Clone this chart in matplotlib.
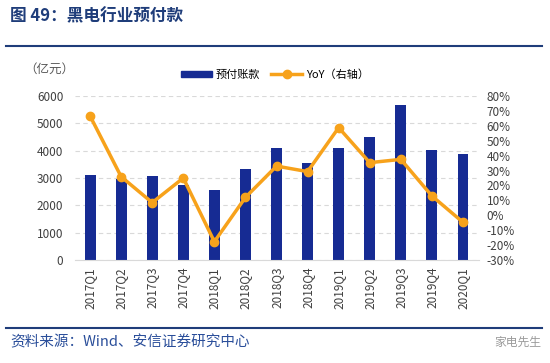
import matplotlib
matplotlib.use("Agg")
import matplotlib.pyplot as plt
from matplotlib.lines import Line2D
from matplotlib.patches import Patch

plt.rcParams['font.family'] = ['Noto Sans CJK SC', 'DejaVu Sans']

quarters = ["2017Q1", "2017Q2", "2017Q3", "2017Q4", "2018Q1", "2018Q2", "2018Q3",
            "2018Q4", "2019Q1", "2019Q2", "2019Q3", "2019Q4", "2020Q1"]
prepay = [3120, 2960, 3080, 2760, 2570, 3330, 4110, 3550, 4090, 4490, 5670, 4020, 3880]
yoy = [66.6, 25.9, 8.5, 25.0, -17.7, 12.0, 33.0, 29.3, 58.8, 35.3, 37.5, 13.0, -4.7]

bar_color = "#162B93"
line_color = "#F7A21B"
title_color = "#1F3D7A"

fig = plt.figure(figsize=(5.5, 3.63), dpi=100)

# header / footer
fig.text(0.018, 0.955, "图 49：黑电行业预付款", fontsize=12, fontweight="bold",
         color=title_color, va="center", ha="left")
fig.add_artist(Line2D([0.01, 0.985], [0.874, 0.874], color="#1F3D7A", lw=1.5))
fig.add_artist(Line2D([0.01, 0.985], [0.097, 0.097], color="#1F3D7A", lw=1.5))
fig.text(0.018, 0.058, "资料来源：Wind、安信证券研究中心", fontsize=10.5, style="italic",
         color="#2A4E9A", va="center", ha="left")
fig.text(0.985, 0.058, "家电先生", fontsize=8.5, color="#9A9A9A", va="center", ha="right")

ax = fig.add_axes([0.1355, 0.2837, 0.7345, 0.4518])
x = range(len(quarters))
ax.bar(x, prepay, width=0.35, color=bar_color, zorder=2)
ax.set_xlim(-0.5, len(quarters) - 0.5)
ax.set_ylim(0, 6000)
ax.set_yticks(range(0, 6001, 1000))
ax.yaxis.grid(True, linestyle=(0, (4, 3)), color="#D9D9D9", lw=0.8, zorder=0)
ax.set_axisbelow(True)
ax.set_xticks(list(x))
ax.set_xticklabels(quarters, rotation=90, fontsize=8.5, color="#404040")
ax.tick_params(axis="y", labelsize=8.5, colors="#404040", length=0, pad=8)
ax.tick_params(axis="x", length=0, pad=5)
for s in ["top", "right", "left"]:
    ax.spines[s].set_visible(False)
ax.spines["bottom"].set_color("#D9D9D9")

ax2 = ax.twinx()
ax2.plot(list(x), yoy, color=line_color, lw=2.5, marker="o", markersize=6, zorder=3)
ax2.set_ylim(-30, 80)
ax2.set_yticks(range(-30, 81, 10))
ax2.set_yticklabels([f"{v}%" for v in range(-30, 81, 10)])
ax2.tick_params(axis="y", labelsize=8.5, colors="#404040", length=0, pad=6)
for s in ["top", "right", "left", "bottom"]:
    ax2.spines[s].set_visible(False)

fig.text(0.045, 0.81, "（亿元）", fontsize=9, color="#595959", va="center", ha="left")

handles = [Patch(color=bar_color),
           Line2D([0], [0], color=line_color, lw=2.5, marker="o", markersize=6)]
fig.legend(handles, ["预付账款", "YoY（右轴）"], loc="center", bbox_to_anchor=(0.5, 0.795),
           ncol=2, frameon=False, fontsize=8, handlelength=2.8, handleheight=0.5,
           columnspacing=1.0, handletextpad=0.3)

fig.savefig("out.png", dpi=100)
